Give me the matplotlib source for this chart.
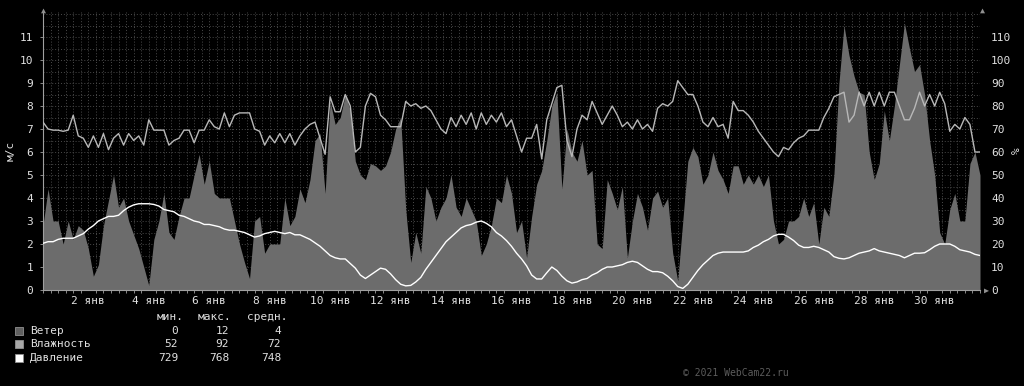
import numpy as np
import matplotlib
matplotlib.use("Agg")
import matplotlib.pyplot as plt

# ---------------- data (4-hour samples, 1 Jan 00:00 .. 1 Feb 00:00) ----------------
days_total = 31
wind = [2.8, 4.4, 3.0, 3.0, 2.0, 3.0, 2.2, 2.8, 2.6, 1.8, 0.6, 1.1, 2.8, 3.9, 5.0, 3.6, 4.0, 3.0, 2.4, 1.8,
        1.0, 0.2, 2.2, 3.0, 4.2, 2.5, 2.2, 3.2, 4.0, 4.0, 5.0, 5.9, 4.6, 5.6, 4.2, 4.0, 4.0, 4.0, 3.0, 2.0,
        1.2, 0.5, 3.0, 3.2, 1.6, 2.0, 2.0, 2.0, 4.0, 2.8, 3.2, 4.4, 3.8, 4.8, 6.5, 6.8, 4.2, 8.2, 7.2, 7.5,
        8.5, 7.8, 5.6, 5.0, 4.8, 5.5, 5.4, 5.2, 5.4, 6.0, 7.0, 7.5, 3.5, 1.2, 2.5, 1.6, 4.5, 4.0, 3.0, 3.6,
        4.0, 5.0, 3.6, 3.2, 4.0, 3.5, 3.0, 1.5, 2.0, 2.8, 4.0, 3.8, 5.0, 4.2, 2.5, 3.0, 1.4, 3.2, 4.6, 5.2,
        6.5, 8.0, 8.6, 4.4, 7.0, 6.0, 5.6, 6.5, 5.0, 5.2, 2.0, 1.8, 4.8, 4.2, 3.5, 4.5, 1.4, 3.0, 4.2, 3.6,
        2.6, 4.0, 4.3, 3.6, 4.0, 1.6, 0.4, 3.0, 5.6, 6.2, 5.8, 4.6, 5.0, 6.0, 5.2, 4.8, 4.2, 5.4, 5.4, 4.6,
        5.0, 4.6, 5.0, 4.5, 5.0, 3.0, 2.0, 2.2, 3.0, 3.0, 3.2, 4.0, 3.2, 3.8, 2.0, 3.6, 3.2, 5.0, 9.0, 11.5,
        10.2, 9.3, 8.6, 8.5, 6.0, 4.8, 5.5, 7.8, 6.5, 8.0, 9.8, 11.6, 10.5, 9.5, 9.8, 8.5, 6.5, 5.0, 2.5, 2.0,
        3.5, 4.2, 3.0, 3.0, 5.5, 6.0, 5.0]
humidity = [73, 70, 69.5, 69.5, 69, 69.5, 76, 67, 66, 62, 67, 62, 68, 61, 66, 68, 63, 68, 65, 67,
            63, 74, 69.5, 69.5, 69.5, 63, 65, 66, 69.5, 69.5, 64, 69.5, 69.5, 74, 71, 70, 77, 71, 76, 77,
            77, 77, 70, 69, 63, 67, 64, 68, 64, 68, 63, 67, 70, 72, 73, 66, 59, 84, 77.5, 77.5,
            85, 80, 60, 62, 80, 85.5, 84, 76, 74, 71, 71, 71, 82, 80, 81, 79, 80, 78, 74, 70,
            68, 75, 71, 76, 72, 77, 70, 77, 72, 76, 73, 77, 71, 74, 67, 60, 66, 66, 72, 57,
            74, 81, 88, 89, 65, 58, 70, 76, 74, 82, 77, 72, 76, 80, 76, 71, 73, 70, 74, 70,
            72, 69, 79, 81, 80, 82, 91, 88, 85, 85, 80, 73, 71, 75, 71, 72, 66, 82, 78, 78,
            76, 73, 69, 66, 63, 60, 58, 62, 61, 64, 66, 67, 69.5, 69.5, 69.5, 75, 79, 84, 85, 86,
            73, 76, 86, 80, 86, 80, 86, 80, 86, 86, 80, 74, 74, 79, 86, 80, 85, 80, 86, 81,
            69, 72, 70, 75, 72, 60, 60]
pressure = [2.03, 2.1, 2.1, 2.2, 2.25, 2.25, 2.25, 2.35, 2.45, 2.65, 2.8, 3.0, 3.1, 3.2, 3.2, 3.25, 3.45, 3.6, 3.7, 3.75,
            3.75, 3.75, 3.72, 3.65, 3.5, 3.45, 3.4, 3.25, 3.2, 3.1, 3.0, 2.95, 2.85, 2.85, 2.8, 2.75, 2.65, 2.6, 2.6, 2.55,
            2.5, 2.4, 2.3, 2.35, 2.45, 2.5, 2.55, 2.5, 2.45, 2.5, 2.4, 2.4, 2.3, 2.2, 2.05, 1.9, 1.7, 1.5, 1.4, 1.35,
            1.35, 1.15, 0.95, 0.65, 0.5, 0.65, 0.8, 0.95, 0.9, 0.7, 0.45, 0.25, 0.18, 0.2, 0.35, 0.55, 0.9, 1.2, 1.5, 1.8,
            2.1, 2.3, 2.5, 2.7, 2.8, 2.85, 2.95, 3.0, 2.9, 2.75, 2.5, 2.35, 2.15, 1.9, 1.6, 1.35, 1.05, 0.65, 0.48, 0.48,
            0.75, 1.0, 0.85, 0.6, 0.4, 0.3, 0.35, 0.45, 0.5, 0.65, 0.75, 0.9, 1.0, 1.0, 1.05, 1.1, 1.2, 1.25, 1.2, 1.05,
            0.9, 0.8, 0.8, 0.75, 0.6, 0.4, 0.15, 0.07, 0.25, 0.55, 0.85, 1.1, 1.3, 1.5, 1.6, 1.65, 1.65, 1.65, 1.65, 1.65,
            1.7, 1.85, 1.95, 2.1, 2.2, 2.35, 2.42, 2.42, 2.3, 2.15, 1.95, 1.85, 1.85, 1.9, 1.85, 1.75, 1.65, 1.45, 1.38, 1.35,
            1.4, 1.5, 1.6, 1.65, 1.7, 1.8, 1.7, 1.65, 1.6, 1.55, 1.5, 1.4, 1.5, 1.6, 1.6, 1.62, 1.75, 1.9, 2.0, 2.0,
            2.0, 1.9, 1.75, 1.7, 1.65, 1.55, 1.5]

xlabel_days = [2, 4, 6, 8, 10, 12, 14, 16, 18, 20, 22, 24, 26, 28, 30]
left_ticks = list(range(0, 12))
right_ticks = list(range(0, 120, 10))

legend_names = ["Ветер", "Влажность", "Давление"]
legend_min = ["0", "52", "729"]
legend_max = ["12", "92", "768"]
legend_avg = ["4", "72", "748"]
legend_headers = ["мин.", "макс.", "средн."]
copyright_text = "© 2021 WebCam22.ru"

# ---------------- style ----------------
W, H = 1024, 386
BG = "#000000"
TXT = "#e0e0e0"
GRID = "#4a4a4a"
AREA = "#6c6c6c"
HUM = "#b8b8b8"
PRES = "#ffffff"
MONO = ["DejaVu Sans Mono"]

plt.rcParams["font.family"] = MONO
fig = plt.figure(figsize=(W / 100, H / 100), dpi=100, facecolor=BG)

L, R, T, B = 43, 980, 12, 290
ax = fig.add_axes([L / W, (H - B) / H, (R - L) / W, (B - T) / H], facecolor=BG)
ymax = (B - T) / 23.0
t = np.linspace(0, days_total, len(wind))

ax.set_xlim(0, days_total)
ax.set_ylim(0, ymax)

# grid
for yv in np.arange(0.5, ymax, 0.5):
    ax.axhline(yv, color=GRID, lw=0.7, ls=(0, (1, 2)), zorder=1)
for xv in np.arange(0.25, days_total, 0.25):
    ax.axvline(xv, color=GRID, lw=0.7, ls=(0, (1, 2)), zorder=1)

ax.fill_between(t, 0, wind, color=AREA, lw=0, zorder=2)
ax.plot(t, np.array(humidity) / 10.0, color=HUM, lw=1.0, zorder=3)
ax.plot(t, pressure, color=PRES, lw=1.0, zorder=4)

for s in ["top", "right"]:
    ax.spines[s].set_visible(False)
for s in ["left", "bottom"]:
    ax.spines[s].set_color("#a0a0a0")
    ax.spines[s].set_linewidth(0.8)

ax.set_yticks(left_ticks)
ax.set_yticklabels([str(v) for v in left_ticks])
ax.tick_params(axis="y", colors=TXT, labelsize=8, length=2, width=0.6, color="#a0a0a0", pad=5)
ax.set_xticks([d - 0.5 for d in xlabel_days])
ax.set_xticklabels([f"{d} янв" for d in xlabel_days])
ax.set_xticks(np.arange(0, days_total + 0.01, 0.25), minor=True)
ax.tick_params(axis="x", which="major", colors=TXT, labelsize=8, length=0, pad=4)
ax.tick_params(axis="x", which="minor", length=2, width=0.6, color="#a0a0a0")

ax2 = ax.twinx()
ax2.set_ylim(0, ymax * 10)
ax2.set_yticks(right_ticks)
ax2.set_yticklabels([str(v) for v in right_ticks])
ax2.tick_params(axis="y", colors=TXT, labelsize=8, length=0, pad=8)
for s in ax2.spines.values():
    s.set_visible(False)

# arrows
fig.text(L / W, 1 - 10 / H, "▲", color="#909090", fontsize=6, ha="center", va="center")
fig.text(982 / W, 1 - 10 / H, "▲", color="#909090", fontsize=6, ha="center", va="center")
fig.text(986 / W, 1 - 290 / H, "▶", color="#909090", fontsize=6, ha="center", va="center")

# axis titles
fig.text(11 / W, 1 - 151 / H, "м/с", color=TXT, fontsize=8, rotation=90, ha="center", va="center")
fig.text(1017 / W, 1 - 151 / H, "%", color=TXT, fontsize=8, rotation=90, ha="center", va="center")

# legend
box_cols = ["#606060", "#a8a8a8", "#ffffff"]
rows_y = [331, 344, 358]
col_right = [178, 229, 281]
fig.text(157 / W, 1 - 317 / H, legend_headers[0], color=TXT, fontsize=8, ha="left", va="center")
fig.text(198 / W, 1 - 317 / H, legend_headers[1], color=TXT, fontsize=8, ha="left", va="center")
fig.text(247 / W, 1 - 317 / H, legend_headers[2], color=TXT, fontsize=8, ha="left", va="center")
for i, name in enumerate(legend_names):
    y = rows_y[i]
    fig.patches.append(plt.Rectangle((15 / W, 1 - (y + 4) / H), 8 / W, 8 / H, transform=fig.transFigure,
                                     facecolor=box_cols[i], edgecolor="#909090", lw=0.6))
    fig.text(30 / W, 1 - y / H, name, color=TXT, fontsize=8, ha="left", va="center")
    for cx, val in zip(col_right, [legend_min[i], legend_max[i], legend_avg[i]]):
        fig.text(cx / W, 1 - y / H, val, color=TXT, fontsize=8, ha="right", va="center")

fig.text(683 / W, 1 - 373 / H, copyright_text, color="#5c5c5c", fontsize=7, ha="left", va="center")

fig.savefig("out.png", dpi=100, facecolor=BG)
